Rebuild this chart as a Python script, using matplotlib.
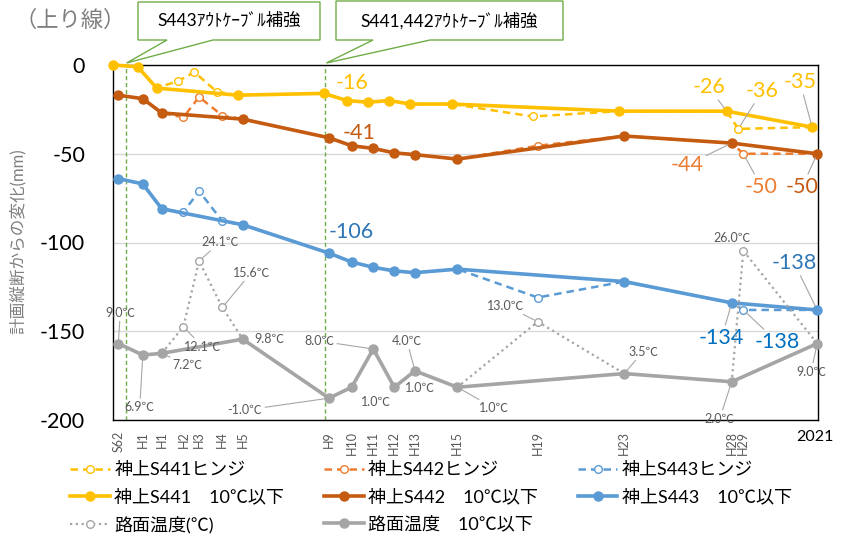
import numpy as np
import matplotlib
matplotlib.use("Agg")
from matplotlib import pyplot as plt
from matplotlib.patches import Polygon
from matplotlib.transforms import IdentityTransform

plt.rcParams['font.family'] = ['Lato', 'Noto Sans CJK JP', 'DejaVu Sans']
plt.rcParams['axes.unicode_minus'] = False

# survey dates as decimal years (S62 ... 2021)
dates = [1987.00, 1988.20, 1989.13, 1990.19, 1990.96, 1992.10, 1993.10,
         1997.33, 1998.44, 1999.50, 2000.53, 2001.54, 2003.62, 2007.56,
         2011.80, 2017.07, 2017.64, 2021.26]
# S441 was surveyed a little earlier than S442/S443
dates_s441 = [1986.75, 1987.95, 1988.88, 1989.94, 1990.73, 1991.82, 1992.85,
              1997.08, 1998.19, 1999.25, 2000.28, 2001.29, 2003.37, 2007.31,
              2011.55, 2016.82, 2017.39, 2021.01]
tick_names = ["S62", "H1", "H1", "H2", "H3", "H4", "H5", "H9", "H10", "H11",
              "H12", "H13", "H15", "H19", "H23", "H28", "H29"]

# change from planned profile (mm)
s441 = [0, -1, -13, -9, -4, -15, -17, -16, -20, -21, -20, -22, -22, -29,
        -26, -26, -36, -35]
s442 = [-17, -19, -27, -29.5, -18, -28.5, -30.5, -41, -45.5, -47, -49.5,
        -50.5, -53, -45.5, -40, -44, -50, -50]
s443 = [-64, -67, -81, -83, -71, -88, -90, -106, -111, -114, -116, -117,
        -115, -131, -122, -134, -138, -138]
# road surface temperature (deg C)
temp = [9.0, 6.9, 7.2, 12.1, 24.1, 15.6, 9.8, -1.0, 1.0, 8.0, 1.0, 4.0,
        1.0, 13.0, 3.5, 2.0, 26.0, 9.0]

# reinforcement events
events = [1987.36, 1997.15]
event_names = ["S443ｱｳﾄｹｰﾌﾞﾙ補強", "S441,442ｱｳﾄｹｰﾌﾞﾙ補強"]

YELLOW = '#FFC000'
BROWN = '#C55A11'
ORANGE = '#ED7D31'
BLUE = '#5B9BD5'
GREY = '#A5A5A5'

W, H = 851, 537
fig = plt.figure(figsize=(W / 100, H / 100), dpi=100)
ax = fig.add_axes([113 / W, 1 - 420 / H, 705 / W, 355 / H])
ax2 = ax.twinx()

cold = [t <= 10 for t in temp]


def pick(xs, ys):
    return ([x for x, c in zip(xs, cold) if c], [y for y, c in zip(ys, cold) if c])


handles = []
dash = (0, (3, 2))
for xs, ys, col in [(dates_s441, s441, YELLOW), (dates, s442, ORANGE), (dates, s443, BLUE)]:
    h, = ax.plot(xs, ys, ls=dash, lw=1.8, color=col, marker='o', ms=5.5,
                 mfc='white', mec=col, mew=1.0, clip_on=False, zorder=3)
    handles.append(h)
for xs, ys, col in [(dates_s441, s441, YELLOW), (dates, s442, BROWN), (dates, s443, BLUE)]:
    cx, cy = pick(xs, ys)
    h, = ax.plot(cx, cy, lw=2.6, color=col, marker='o', ms=6.5,
                 clip_on=False, zorder=4)
    handles.append(h)

h, = ax2.plot(dates, temp, ls=(0, (1, 1.6)), lw=1.6, color=GREY, marker='o',
              ms=5.5, mfc='white', mec=GREY, mew=1.0, clip_on=False, zorder=3)
handles.append(h)
cx, cy = pick(dates, temp)
h, = ax2.plot(cx, cy, lw=2.6, color=GREY, marker='o', ms=6.5, clip_on=False, zorder=4)
handles.append(h)

labels = ["神上S441ヒンジ", "神上S442ヒンジ", "神上S443ヒンジ",
          "神上S441　10℃以下", "神上S442　10℃以下", "神上S443　10℃以下",
          "路面温度(℃)", "路面温度　10℃以下"]
# reorder so that matplotlib's column-wise filling gives the row layout
order = [0, 3, 6, 1, 4, 7, 2, 5]
fig.legend([handles[i] for i in order], [labels[i] for i in order], ncol=3,
           loc='upper left', bbox_to_anchor=(70 / W, 1 - 462 / H), frameon=False,
           fontsize=13, handlelength=2.2, handletextpad=0.25, columnspacing=2.2,
           labelspacing=0.58, borderaxespad=0, borderpad=0)

ax.set_xlim(1986.74, 2021.30)
ax.set_ylim(-200, 0)
ax2.set_ylim(-5, 60)
ax.set_yticks([0, -50, -100, -150, -200])
ax.tick_params(axis='y', length=0, pad=20, labelsize=15.5, labelcolor='black')
ax.set_xticks(dates[:17])
ax.set_xticklabels(tick_names, rotation=90, fontsize=9, color='#595959')
ax.tick_params(axis='x', length=0, pad=8)
ax2.set_yticks([])
for sp in ax2.spines.values():
    sp.set_visible(False)
for sp in ax.spines.values():
    sp.set_color('black')
    sp.set_linewidth(1.0)
ax.grid(axis='y', color='#D9D9D9', lw=1.0)
ax.set_axisbelow(True)

ax.annotate('2021', xy=(dates[-1], 0), xycoords=('data', 'axes fraction'),
            xytext=(-2, -17), textcoords='offset pixels', ha='center', va='center',
            fontsize=11.5)

for ev in events:
    ax.axvline(ev, color='#70AD47', ls=(0, (3, 2)), lw=1.0, zorder=1)


def tag(axis, x, y, text, off, color, size, leader=True):
    kw = dict(arrowprops=dict(arrowstyle='-', color='#A6A6A6', lw=0.8,
                              shrinkA=0, shrinkB=3)) if leader else {}
    axis.annotate(text, xy=(x, y), xytext=off, textcoords='offset pixels',
                  ha='center', va='center', color=color, fontsize=size,
                  annotation_clip=False, zorder=6, **kw)


# value labels: (series, index, offset, colour)
value_tags = [
    (dates_s441, s441, 7, (28, 10), YELLOW, False),
    (dates_s441, s441, 15, (-18, 24), YELLOW, True),
    (dates_s441, s441, 16, (24, 38), YELLOW, True),
    (dates_s441, s441, 17, (-12, 45), YELLOW, True),
    (dates, s442, 7, (30, 5), BROWN, False),
    (dates, s442, 15, (-45, -22), ORANGE, True),
    (dates, s442, 16, (18, -33), ORANGE, True),
    (dates, s442, 17, (-15, -33), BROWN, True),
    (dates, s443, 7, (22, 21), '#2E75B6', False),
    (dates, s443, 15, (-10, -35), '#0070C0', True),
    (dates, s443, 16, (34, -32), '#0070C0', True),
    (dates, s443, 17, (-23, 47), '#2E75B6', True),
]
for xs, ys, i, off, col, lead in value_tags:
    tag(ax, xs[i], ys[i], '%d' % ys[i], off, col, 15.5, lead)

temp_offsets = [(2, 31), (-3, -52), (26, -12), (19, -20), (21, 19), (29, 35),
                (27, 0), (-84, -12), (24, -15), (-54, 8), (26, -1), (-8, 30),
                (37, -21), (-32, 16), (19, 22), (-12, -37), (-11, 13), (-6, -28)]
temp_leader = [True, True, True, True, True, True, False, True, False, True,
               False, True, True, True, True, True, False, True]
for x, t, off, lead in zip(dates, temp, temp_offsets, temp_leader):
    tag(ax2, x, t, '%.1f℃' % t, off, '#595959', 9, lead)

# callout boxes (image pixels, y down): x0, y0, x1, y1, wedge base start, end
boxes = [(138, 2, 320, 40, 167, 213), (336, 1, 563, 40, 373, 430)]
fig.canvas.draw()
for ev, name, (x0, y0, x1, y1, b0, b1) in zip(events, event_names, boxes):
    tx, ty = ax.transData.transform((ev, 0))
    pts = [(x0, H - y0), (x1, H - y0), (x1, H - y1), (b1, H - y1),
           (tx + 1, ty + 2), (b0, H - y1), (x0, H - y1)]
    fig.add_artist(Polygon(pts, closed=True, fc='white', ec='#70AD47', lw=1.0,
                           transform=IdentityTransform()))
    fig.text((x0 + x1) / 2 / W, 1 - (y0 + y1) / 2 / H, name, ha='center',
             va='center', fontsize=12.5, color='black')

fig.text(15 / W, 1 - 20 / H, '（上り線）', ha='left', va='center', fontsize=16,
         color='#7F7F7F')
fig.text(18 / W, 1 - 241 / H, '計画縦断からの変化(mm)', rotation=90, ha='center',
         va='center', fontsize=12, color='#7F7F7F')

fig.savefig('out.png', dpi=100)
